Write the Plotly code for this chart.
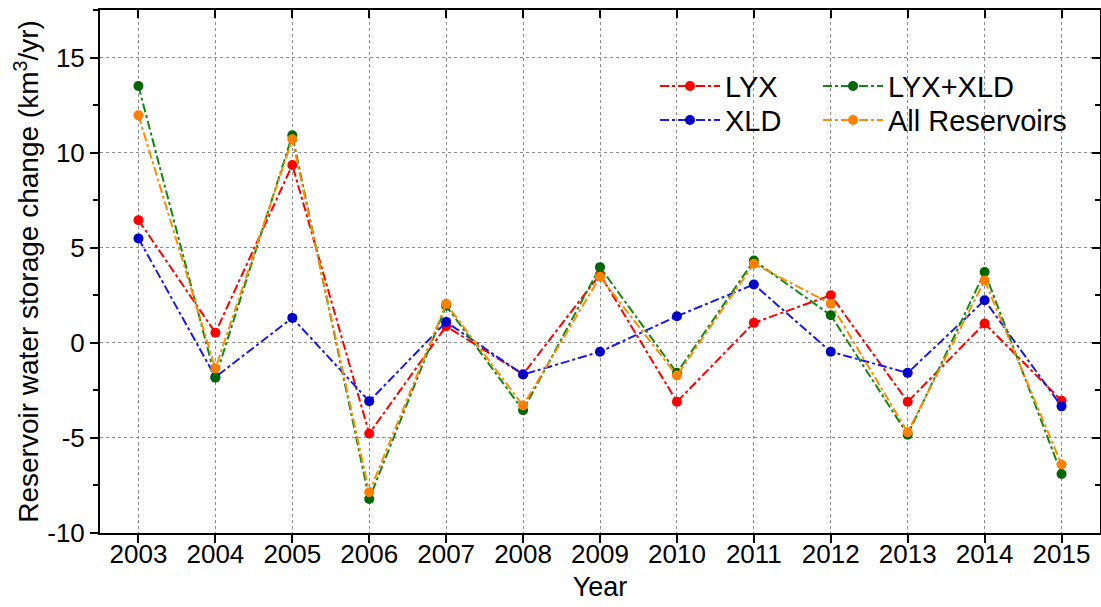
import plotly.graph_objects as go

years = [2003, 2004, 2005, 2006, 2007, 2008, 2009, 2010, 2011, 2012, 2013, 2014, 2015]
lyx = [6.45, 0.53, 9.35, -4.77, 0.87, -1.65, 3.6, -3.1, 1.05, 2.5, -3.1, 1.02, -3.04]
xld = [5.49, -1.8, 1.31, -3.07, 1.1, -1.67, -0.47, 1.4, 3.07, -0.47, -1.58, 2.24, -3.34]
lyx_xld = [13.5, -1.84, 10.91, -8.21, 1.95, -3.55, 3.98, -1.58, 4.33, 1.45, -4.83, 3.72, -6.9]
all_res = [11.96, -1.35, 10.7, -7.86, 2.05, -3.3, 3.47, -1.72, 4.16, 2.05, -4.7, 3.28, -6.4]

ytick_vals = [-10, -5, 0, 5, 10, 15]
ytick_text = ["-10", "-5", "0", "5", "10", "15"]

FONT = "Liberation Sans, Arial, sans-serif"

# name, values, line colour, marker colour, legend id
series = [
    ("LYX", lyx, "#FF0000", "#FF0000", "legend"),
    ("XLD", xld, "#1A1AE6", "#0000CC", "legend2"),
    ("LYX+XLD", lyx_xld, "#118811", "#006600", "legend3"),
    ("All Reservoirs", all_res, "#FF8C00", "#FF8000", "legend4"),
]

fig = go.Figure()
for name, vals, lc, mc, lg in series:
    fig.add_trace(go.Scatter(
        x=years, y=vals, name=name, mode="lines+markers",
        line=dict(color=lc, width=2, dash="dashdot"),
        marker=dict(color=mc, size=10, symbol="circle"),
        legend=lg,
    ))

# helper trace so the mirrored (top/right) axes are drawn
fig.add_trace(go.Scatter(x=[years[0]], y=[0], xaxis="x2", yaxis="y2",
                         mode="markers", marker=dict(opacity=0),
                         showlegend=False, hoverinfo="skip"))

xr = [2002.5, 2015.5]
yr = [-10, 17.5]

leg_common = dict(
    orientation="v", xanchor="left", yanchor="top", itemwidth=60,
    font=dict(size=29, family=FONT, color="black"),
    bgcolor="rgba(0,0,0,0)",
)

fig.update_layout(
    width=1101, height=607,
    margin=dict(l=100, r=1, t=10, b=74),
    paper_bgcolor="white", plot_bgcolor="white",
    font=dict(family=FONT, size=26, color="black"),
    showlegend=True,
    legend=dict(x=0.555, y=0.903, **leg_common),
    legend2=dict(x=0.555, y=0.838, **leg_common),
    legend3=dict(x=0.718, y=0.903, **leg_common),
    legend4=dict(x=0.718, y=0.838, **leg_common),
    xaxis=dict(
        range=xr, tickvals=years, ticktext=[str(y) for y in years],
        ticks="outside", ticklen=8, tickwidth=2, tickcolor="black",
        showline=True, linecolor="black", linewidth=2,
        showgrid=True, gridcolor="#8c8c8c", gridwidth=1, griddash="dot",
        zeroline=False, ticklabelstandoff=-11,
        title=dict(text="Year", font=dict(size=27), standoff=9),
        tickfont=dict(size=26),
    ),
    yaxis=dict(
        range=yr, tickvals=ytick_vals, ticktext=ytick_text,
        ticks="outside", ticklen=8, tickwidth=2, tickcolor="black",
        minor=dict(dtick=2.5, tick0=0, ticks="outside", ticklen=5,
                   tickwidth=2, tickcolor="black", showgrid=False),
        showline=True, linecolor="black", linewidth=2,
        showgrid=True, gridcolor="#8c8c8c", gridwidth=1, griddash="dot",
        zeroline=False,
        title=dict(text="Reservoir water storage change (km<sup>3</sup>/yr)",
                   font=dict(size=28), standoff=0),
        tickfont=dict(size=26),
    ),
    xaxis2=dict(
        overlaying="x", side="top", range=xr, tickvals=years,
        showticklabels=False, ticks="inside", ticklen=8, tickwidth=2,
        tickcolor="black", showline=True, linecolor="black", linewidth=2,
        showgrid=False, zeroline=False,
    ),
    yaxis2=dict(
        overlaying="y", side="right", range=yr, tickvals=ytick_vals,
        showticklabels=False, ticks="inside", ticklen=8, tickwidth=2,
        tickcolor="black",
        minor=dict(dtick=2.5, tick0=0, ticks="inside", ticklen=5,
                   tickwidth=2, tickcolor="black", showgrid=False),
        showline=True, linecolor="black", linewidth=2,
        showgrid=False, zeroline=False,
    ),
)

fig.write_html("out.html")
